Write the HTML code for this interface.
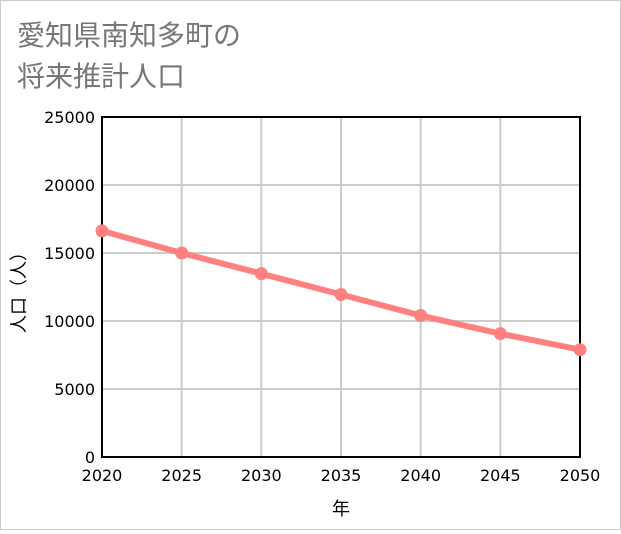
<!DOCTYPE html>
<html><head><meta charset="utf-8"><style>
body{margin:0;background:#fff}
#wrap{position:relative;width:619px;height:528px;border:1px solid #ccc;background:#fff;font-family:"Liberation Sans","Noto Sans CJK JP",sans-serif}
svg text{font-family:"DejaVu Sans","Liberation Sans","Noto Sans CJK JP",sans-serif}
</style></head><body>
<div id="wrap">
<svg id="chart" width="619" height="528">
<text x="16" y="44" font-size="28" fill="#777" style="font-family:'Noto Sans CJK JP',sans-serif">愛知県南知多町の</text>
<text x="16" y="85" font-size="28" fill="#777" style="font-family:'Noto Sans CJK JP',sans-serif">将来推計人口</text>
<g id="grid"></g><g id="axes"></g><g id="series"></g>
<text x="340" y="514" font-size="18" text-anchor="middle" fill="#000" style="font-family:'Noto Sans CJK JP',sans-serif">年</text>
<text transform="translate(24,287) rotate(-90)" font-size="18" text-anchor="middle" fill="#000" style="font-family:'Noto Sans CJK JP',sans-serif">人口（人）</text>
</svg></div>
<script>
const years=[2020,2025,2030,2035,2040,2045,2050];
const population=[16625,15000,13480,11950,10400,9070,7890];
const yTicks=[0,5000,10000,15000,20000,25000];
const NS='http://www.w3.org/2000/svg';
const L=101,R=579,T=116,B=456;
const xs=v=>L+(v-2020)/30*(R-L);
const ys=v=>B-v/25000*(B-T);
function mk(tag,attrs,parent){const e=document.createElementNS(NS,tag);for(const k in attrs)e.setAttribute(k,attrs[k]);document.getElementById(parent).appendChild(e);return e;}
years.forEach(y=>{
 const g=mk('line',{x1:xs(y),x2:xs(y),y1:T,y2:B,stroke:'#ccc','stroke-width':2},'grid');
 
 
 const t=mk('text',{x:xs(y),y:480,'font-size':16,'text-anchor':'middle',fill:'#000'},'axes');t.textContent=y;
 
 
});
yTicks.forEach(v=>{
 const g=mk('line',{x1:L,x2:R,y1:ys(v),y2:ys(v),stroke:'#ccc','stroke-width':2},'grid');
 
 
 const t=mk('text',{x:94,y:ys(v)+6,'font-size':16,'text-anchor':'end',fill:'#000'},'axes');t.textContent=v;
 
 
});
const fr=mk('rect',{x:L,y:T,width:R-L,height:B-T,fill:'none',stroke:'#000','stroke-width':2},'axes');


const pl=mk('polyline',{points:years.map((y,i)=>xs(y)+','+ys(population[i])).join(' '),fill:'none',stroke:'#ff8080','stroke-width':6},'series');


years.forEach((y,i)=>{
 const c=mk('circle',{cx:xs(y),cy:ys(population[i]),r:6.5,fill:'#ff8080'},'series');
 
 
});
</script>
</body></html>
